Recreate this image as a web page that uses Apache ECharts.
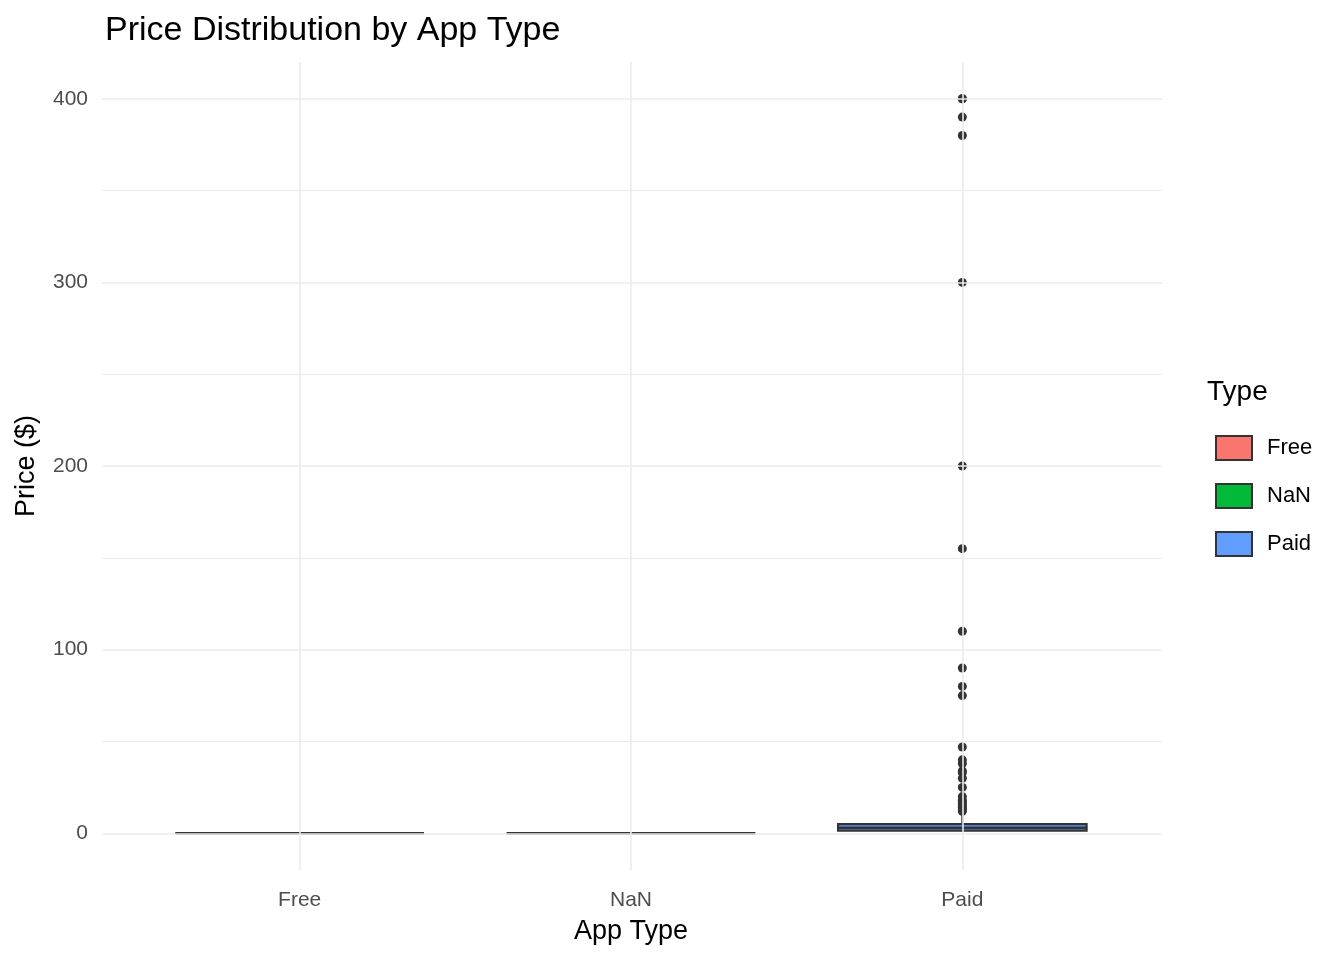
<!DOCTYPE html>
<html lang="en">
<head>
<meta charset="UTF-8">
<title>Price Distribution by App Type</title>
<script src="https://cdn.jsdelivr.net/npm/echarts@6/dist/echarts.min.js"></script>
<style>html,body{margin:0;background:#fff}#main{width:1344px;height:960px}</style>
</head>
<body>
<div id="main"></div>
<script>
var categories = ['Free', 'NaN', 'Paid'];
var typeColors = ['#F8766D', '#00BA38', '#619CFF'];
// [min, q1, median, q3, max]
var boxStats = [
    [0, 0, 0, 0, 0],
    [0, 0, 0, 0, 0],
    [0.99, 1.49, 2.99, 4.99, 10.99]
];
var paidOutliers = [400, 399.99, 389.99, 379.99, 299.99, 199.99, 154.99, 109.99, 89.99, 79.99, 74.99,
    46.99, 39.99, 37.99, 33.99, 32.99, 29.99, 24.99, 19.99, 17.99, 16.99, 15.99, 14.99, 13.99, 12.99, 11.99];
var yTicks = [0, 100, 200, 300, 400];
var yGrid = [0, 50, 100, 150, 200, 250, 300, 350, 400];

var chart = echarts.init(document.getElementById('main'));
var font = 'Arial, Liberation Sans';

var series = [];
// grid lines, on a background grid spanning the whole panel
series.push({
    type: 'line', xAxisIndex: 1, yAxisIndex: 1, data: [], silent: true, z: 0,
    markLine: {
        silent: true, symbol: 'none', label: { show: false },
        data: yGrid.map(function (v) {
            return { yAxis: v, lineStyle: { type: 'solid', width: v % 100 === 0 ? 1.6 : 1, color: '#ebebeb' } };
        })
    }
});
series.push({
    type: 'line', data: [], silent: true, z: 0,
    markLine: {
        silent: true, symbol: 'none', label: { show: false },
        data: categories.map(function (c) {
            return { xAxis: c, lineStyle: { type: 'solid', width: 1.6, color: '#ebebeb' } };
        })
    }
});
// boxes
series.push({
    type: 'custom',
    z: 3,
    data: boxStats.map(function (s, i) { return [i].concat(s); }),
    encode: { x: 0, y: [1, 2, 3, 4, 5] },
    renderItem: function (params, api) {
        var i = api.value(0);
        var half = api.size([1, 0])[0] * 0.375;
        var lo = api.coord([i, api.value(1)]);
        var q1 = api.coord([i, api.value(2)]);
        var md = api.coord([i, api.value(3)]);
        var q3 = api.coord([i, api.value(4)]);
        var hi = api.coord([i, api.value(5)]);
        var x = q1[0];
        var st = { stroke: '#333333', lineWidth: 2.2 };
        return {
            type: 'group',
            children: [
                { type: 'line', shape: { x1: x, y1: q1[1], x2: x, y2: lo[1] }, style: st },
                { type: 'line', shape: { x1: x, y1: q3[1], x2: x, y2: hi[1] }, style: st },
                { type: 'rect', shape: { x: x - half, y: q3[1], width: half * 2, height: q1[1] - q3[1] },
                  style: { fill: typeColors[i], stroke: '#333333', lineWidth: 2.2 } },
                { type: 'line', shape: { x1: x - half, y1: md[1], x2: x + half, y2: md[1] }, style: { stroke: '#333333', lineWidth: 2.5 } }
            ]
        };
    }
});
series.push({
    name: 'outliers',
    type: 'scatter',
    data: paidOutliers.map(function (v) { return ['Paid', v]; }),
    symbolSize: 9,
    itemStyle: { color: '#333333', opacity: 1 },
    z: 4
});
// legend entries
categories.forEach(function (c, i) {
    series.push({ name: c, type: 'bar', data: [], itemStyle: { color: typeColors[i], borderColor: '#333333', borderWidth: 2 } });
});

chart.setOption({
    animation: false,
    title: {
        text: 'Price Distribution by App Type',
        left: 100, top: 9,
        textStyle: { fontFamily: font, fontWeight: 'normal', fontSize: 34, color: '#000' }
    },
    legend: {
        data: categories,
        orient: 'vertical',
        left: 1210, top: 430,
        itemWidth: 36, itemHeight: 24, itemGap: 22,
        icon: 'rect',
        textStyle: { fontFamily: font, fontSize: 22, color: '#000', padding: [0, 0, 0, 10] }
    },
    graphic: [{
        type: 'text', left: 1207, top: 378,
        style: { text: 'Type', font: '28px Arial, Liberation Sans', fill: '#000' }
    }],
    grid: [
        { left: 134, right: 216, top: 62, bottom: 90 },
        { left: 102, right: 182, top: 62, bottom: 90 }
    ],
    xAxis: [{
        type: 'category',
        data: categories,
        name: 'App Type',
        nameLocation: 'middle',
        nameGap: 48,
        nameTextStyle: { fontFamily: font, fontSize: 27, color: '#000' },
        axisLine: { show: false },
        axisTick: { show: false },
        splitLine: { show: false },
        axisLabel: { fontFamily: font, fontSize: 21, color: '#4d4d4d', margin: 20 }
    }, {
        type: 'value', gridIndex: 1, min: 0, max: 1, show: false
    }],
    yAxis: [{
        type: 'value',
        min: -20, max: 420,
        name: 'Price ($)',
        nameLocation: 'middle',
        nameGap: 94,
        nameTextStyle: { fontFamily: font, fontSize: 27, color: '#000' },
        axisLine: { show: false },
        axisTick: { show: false },
        splitLine: { show: false },
        axisLabel: { customValues: yTicks, fontFamily: font, fontSize: 21, color: '#4d4d4d', margin: 46 }
    }, {
        type: 'value', gridIndex: 1, min: -20, max: 420, show: false
    }],
    series: series
});
</script>
</body>
</html>
